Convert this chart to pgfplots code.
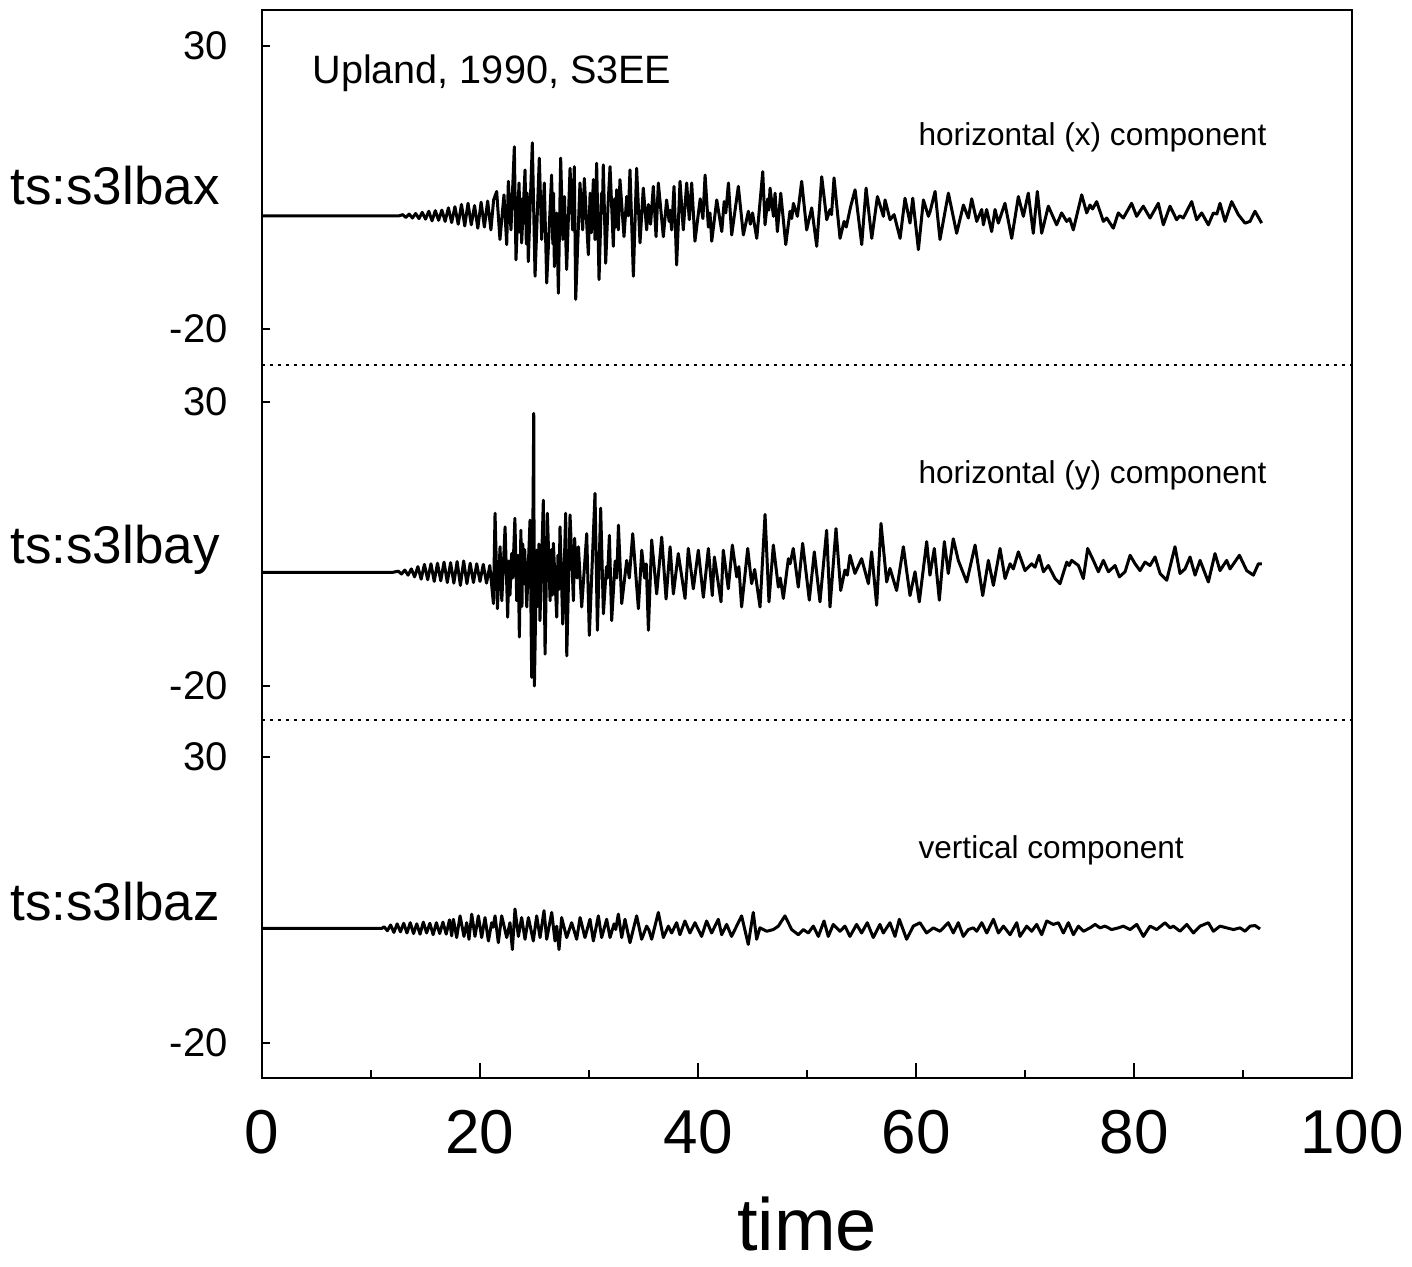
\documentclass[border=0pt]{standalone}
\usepackage{pgfplots}
\pgfplotsset{compat=1.18}
\usepackage{fontspec}
\setmainfont{Liberation Sans}
\pgfplotsset{
 panel/.style={scale only axis, width=545pt, anchor=north west, xmin=0, xmax=100,
   axis line style={draw=none}, tick pos=left, tick align=inside, xtick=\empty,
   ytick={-20,30}, yticklabels={-20,30}, major tick length=4pt,
   tick style={line width=1pt, black},
   yticklabel style={font=\fontsize{20}{24}\selectfont, inner sep=0pt, xshift=-17pt},
   clip=false},
 trace/.style={black, line width=1.5pt, line join=round, no marks}
}
\begin{document}
\begin{tikzpicture}
\useasboundingbox (0pt,0pt) rectangle (706pt,-633.5pt);
% ---------------- panel 1 ----------------
\begin{axis}[panel, height=177.5pt, at={(131pt,-5pt)}, ymin=-26.4, ymax=36.4]
\addplot[trace] coordinates {
(0,0) (12.6,0) (12.9,0.2) (13.2,-0.3) (13.5,0.3) (13.8,-0.4) (14.1,0.4) (14.4,-0.5)
(14.7,0.6) (15.0,-0.6) (15.3,0.8) (15.6,-0.9) (15.9,0.9) (16.2,-0.8) (16.5,1.0) (16.8,-1.0)
(17.1,1.4) (17.4,-1.2) (17.7,1.6) (18.0,-1.5) (18.3,2.0) (18.6,-1.8) (18.9,2.2) (19.2,-1.6)
(19.5,1.8) (19.8,-2.2) (20.1,2.4) (20.4,-2.0) (20.7,2.6) (21.0,-2.5) (21.25,2.8)
(21.53,4.3) (21.83,-4.2) (22.2,3.7) (22.45,-5.1) (22.6,6.1) (22.84,-2.5) (23.15,12.2)
(23.3,-7.8) (23.58,5.8) (23.7,-3.0) (23.75,3.0) (23.82,-4.8) (24.13,8.1) (24.25,-5.0)
(24.33,4.0) (24.43,-8.1) (24.8,12.9) (25.05,-10.7)
(25.44,10.2) (25.66,-4.2) (25.9,5.8) (26.12,-11.9) (26.57,7.2) (26.68,-5.0) (26.75,4.0)
(26.82,-9.0) (27.03,0.5)
(27.19,-13.7) (27.4,10.2) (27.6,-4.2) (27.75,3.4) (27.95,-9.5) (28.26,8.4) (28.5,-2.5)
(28.65,8.7) (28.78,-14.8) (29.17,5.8) (29.42,-2.5) (29.57,6.6) (29.94,-6.9) (30.1,4.0)
(30.22,-3.0) (30.4,6.4)
(30.55,-4.2) (30.7,9.3) (30.92,-11.3) (31.15,4.0) (31.22,0.5) (31.31,9.0) (31.53,-8.4)
(31.75,2.0) (31.93,8.7) (32.23,-5.4) (32.35,3.0) (32.45,-2.0) (32.54,4.6) (32.69,-2.5)
(32.84,6.4) (33.21,-3.7)
(33.46,3.4) (33.6,0.0) (33.76,8.1) (34.07,-10.7) (34.37,8.4) (34.68,-4.8) (34.98,4.9)
(35.29,-2.5) (35.45,2.0) (35.65,-1.5) (35.9,5.2) (36.15,-3.7) (36.36,5.8) (36.82,-3.7)
(37.12,2.8) (37.35,-1.0) (37.45,1.0) (37.58,-2.5) (37.8,5.2) (38.04,-8.7) (38.35,6.1)
(38.65,-2.5) (38.96,5.8) (39.2,-0.7) (39.42,5.8) (39.72,-4.5) (40.2,3.0) (40.45,-0.5)
(40.65,7.2) (40.95,-2.0) (41.1,0.5) (41.26,-4.5) (41.72,2.8) (42.18,-2.8) (42.4,2.5)
(42.55,0.5) (42.79,5.8) (43.09,-3.4) (43.7,5.2) (44.16,-3.4) (44.62,0.8) (44.8,-1.5)
(45.0,0.5) (45.39,-4.0) (45.94,7.8) (46.15,-1.6) (46.4,3.0) (46.5,1.0) (46.61,4.9)
(46.92,-0.1) (47.07,4.0) (47.28,-2.8) (47.59,4.0) (48.05,-5.1) (48.44,0.8) (48.6,-0.5)
(48.75,2.2) (49.12,-0.1) (49.51,6.1) (49.97,-2.5) (50.43,1.4) (50.89,-5.4) (51.35,6.9)
(51.81,-0.7) (52.11,1.1) (52.25,0.2) (52.48,6.7) (53.03,-4.0) (53.4,-1.0) (53.6,-2.0)
(54.0,1.6) (54.41,4.6) (55.02,-5.1) (55.42,4.9) (55.94,-4.0) (56.46,3.4) (57.01,-0.1)
(57.16,2.8) (57.62,-0.7) (57.99,0.2) (58.54,-4.0) (58.99,3.1) (59.45,-1.3) (59.7,3.1)
(60.22,-6.0) (60.68,2.8) (61.14,-0.1) (61.3,0.8) (61.75,4.3) (62.2,-4.2) (62.97,4.0)
(63.73,-3.1) (64.35,1.9) (64.8,-0.4) (65.11,3.0) (65.57,-1.0) (66.03,1.1) (66.18,-1.6)
(66.48,1.1) (66.94,-2.8) (67.25,1.1) (67.55,-1.3) (68.16,2.2) (68.78,-4.0) (69.39,3.4)
(69.85,-0.1) (70.3,4.0) (70.76,-3.1) (71.13,4.3) (71.53,-3.1) (72.14,1.7) (72.9,-1.6)
(73.36,0.5) (73.82,-1.0) (74.1,-0.5) (74.43,-2.5) (75.2,3.7) (75.66,0.5) (75.96,1.9)
(76.2,1.2) (76.57,2.5) (77.19,-1.0) (77.49,-0.4) (78.1,-2.2) (78.56,0.5) (79.02,-0.4)
(79.78,2.2) (80.24,-0.1) (80.85,1.7) (81.47,-0.4) (82.23,2.2) (82.69,-1.6) (83.3,1.7)
(83.91,-0.7) (84.2,0.0) (84.52,-0.4) (85.29,2.5) (85.75,-0.7) (86.21,0.5) (86.82,-1.6)
(87.28,0.5) (87.6,0.3) (87.89,2.2) (88.35,-1.0) (88.96,2.5) (89.57,0.2) (90.18,-1.3)
(90.64,-1.0) (91.1,0.8) (91.71,-1.3)
};
\node[anchor=base west, inner sep=0pt, font=\fontsize{19.8}{24}\selectfont] at (axis cs:4.6,23.4) {Upland, 1990, S3EE};
\node[anchor=base west, inner sep=0pt, font=\fontsize{15.8}{19}\selectfont] at (axis cs:60.2,12.4) {horizontal (x) component};
\end{axis}
% ---------------- panel 2 ----------------
\begin{axis}[panel, height=177.5pt, at={(131pt,-182.5pt)}, ymin=-26.0, ymax=36.5]
\addplot[trace] coordinates {
(0,0) (12.0,0) (12.5,0.2) (12.8,-0.3) (13.1,0.4) (13.4,-0.5) (13.7,0.6) (14.0,-0.8)
(14.3,1.0) (14.6,-1.2) (14.9,1.4) (15.2,-1.3) (15.5,1.5) (15.8,-1.6) (16.1,1.6) (16.4,-1.5)
(16.7,1.8) (17.0,-1.8) (17.3,1.7) (17.6,-1.9) (17.9,1.9) (18.2,-2.3) (18.5,2.0) (18.8,-2.0)
(19.1,1.6) (19.4,-1.8) (19.7,1.5) (20.0,-1.6) (20.3,1.4) (20.6,-1.9) (20.9,1.2)
(21.23,-5.5) (21.38,10.4) (21.6,-6.4) (21.84,4.5) (22.0,-5.0) (22.3,8.0) (22.54,-7.9)
(22.65,2.0) (22.75,-4.0)
(22.9,3.3) (23.0,-1.0) (23.2,9.5) (23.37,-5.0) (23.5,3.0) (23.61,-11.4) (23.75,7.4)
(23.85,-6.0) (23.92,5.0)
(24.0,-2.0) (24.1,4.0) (24.29,-6.1) (24.59,9.2) (24.74,-18.5) (24.93,28.0) (24.99,-20.0)
(25.2,3.9) (25.3,-6.0) (25.4,5.0) (25.5,-8.5) (25.81,12.7) (25.97,-14.4) (26.18,10.4)
(26.43,-5.0) (26.55,4.0) (26.63,-4.0) (26.73,5.1)
(27.04,-7.9) (27.15,3.0) (27.25,-3.0) (27.34,8.0) (27.59,-9.1) (27.86,10.4) (27.96,-14.7)
(28.26,10.1) (28.57,-5.0) (28.68,6.0)
(28.8,1.0) (28.9,-1.0) (29.03,4.5) (29.33,-6.1) (29.79,6.8) (30.03,-11.1) (30.55,13.9)
(30.77,-10.2) (31.07,11.3) (31.32,-7.3) (31.6,1.0) (31.7,-1.0) (31.87,6.5) (32.08,-8.5)
(32.4,2.0) (32.55,-1.0) (32.7,8.3) (33.0,-5.5) (33.46,2.1) (33.7,-1.0) (34.01,6.8)
(34.53,-6.4) (34.84,3.9) (35.1,-1.0) (35.25,1.5) (35.45,-10.2) (35.75,5.7) (36.21,-3.8)
(36.67,6.2) (37.07,-4.7) (37.44,4.5) (37.74,-3.8) (38.19,3.3) (38.81,-4.6) (39.11,4.2)
(39.57,-2.9) (40.03,3.9) (40.49,-4.4) (40.95,4.2) (41.31,-4.1) (41.5,2.7) (42.11,-5.2)
(42.32,3.9) (42.78,-2.9) (43.15,4.8) (43.55,-0.8) (43.75,1.0) (44.0,-6.1) (44.56,4.2)
(44.92,-2.0) (45.2,0.5) (45.69,-6.1) (46.15,10.2) (46.51,-5.2) (46.91,4.8) (47.37,-2.6)
(47.55,-1.0) (47.83,-4.6) (48.29,2.4) (48.45,1.5) (48.74,4.2) (49.2,-2.6) (49.6,5.1)
(50.21,-4.9) (50.67,3.6) (51.19,-5.2) (51.8,7.4) (52.11,-6.1) (52.66,7.7) (53.09,-3.2)
(53.48,0.4) (53.7,-0.5) (53.94,3.0) (54.4,-0.2) (55.01,2.4) (55.63,-2.0) (55.93,3.6)
(56.39,-5.8) (56.79,8.6) (57.31,-1.7) (57.61,0.7) (58.22,-3.2) (58.84,4.5) (59.45,-4.1)
(59.91,0.1) (60.3,-5.2) (60.98,5.4) (61.28,-0.5) (61.68,4.2) (62.14,-4.9) (62.6,5.4)
(62.96,-0.2) (63.42,5.9) (63.88,2.1) (64.65,-1.7) (65.42,4.8) (66.12,-4.1) (66.64,2.1)
(67.1,-2.3) (67.71,4.2) (68.17,-1.1) (68.63,1.5) (68.93,0.6) (69.39,3.6) (70.0,0.3)
(70.61,1.5) (70.92,0.9) (71.29,3.0) (71.69,0.1) (72.14,1.2) (72.76,-1.1) (73.21,-2.0)
(73.83,1.8) (74.05,1.2) (74.28,2.1) (74.9,1.2) (75.35,-1.1) (75.75,4.2) (76.27,2.1)
(76.73,0.1) (77.19,2.1) (77.65,0.1) (78.26,1.2) (78.66,-0.8) (79.18,0.1) (79.64,3.0)
(80.1,1.5) (80.55,0.3) (81.01,1.8) (81.47,1.2) (81.93,2.7) (82.39,-0.2) (83.0,-1.4)
(83.76,4.5) (84.22,-0.2) (84.68,0.6) (85.14,2.7) (85.6,-0.5) (86.06,2.1) (86.82,-1.7)
(87.43,3.3) (87.89,0.3) (88.5,2.1) (88.81,0.6) (89.67,3.0) (90.34,0.3) (90.95,-0.5)
(91.41,1.5) (91.72,1.5)
};
\node[anchor=base west, inner sep=0pt, font=\fontsize{15.8}{19}\selectfont] at (axis cs:60.2,15.7) {horizontal (y) component};
\end{axis}
% ---------------- panel 3 ----------------
\begin{axis}[panel, height=179pt, at={(131pt,-360pt)}, ymin=-26.2, ymax=36.5]
\addplot[trace] coordinates {
(0,0) (11.0,0) (11.2,0.3) (11.5,-0.4) (11.8,0.6) (12.1,-0.7) (12.4,0.8) (12.7,-0.6)
(13.0,0.9) (13.3,-0.8) (13.6,1.0) (13.9,-0.9) (14.2,0.8) (14.5,-1.0) (14.8,1.1) (15.1,-0.8)
(15.4,0.9) (15.7,-1.1) (16.0,1.0) (16.3,-0.9) (16.6,1.1) (16.9,-1.0) (17.2,1.5) (17.4,-1.3)
(17.56,1.6) (17.86,-1.6) (18.17,2.2) (18.53,-1.4) (18.78,1.0) (18.99,-1.9) (19.24,2.5)
(19.54,-1.4) (19.85,2.2) (20.15,-1.6) (20.46,1.9) (20.77,-2.2) (21.07,1.0) (21.2,0.2)
(21.38,2.2) (21.68,-2.5) (21.99,2.2) (22.45,-1.6) (22.75,1.0) (22.97,-3.7) (23.21,3.4)
(23.52,-1.4) (23.82,1.9) (24.13,-1.9) (24.44,1.9) (24.89,-2.2) (25.2,2.2) (25.51,-1.6)
(25.87,3.1) (26.12,-1.9) (26.58,2.8) (26.88,-2.2) (27.04,0.4) (27.25,-3.7) (27.49,1.9)
(27.95,-1.6) (28.41,1.0) (28.87,-1.9) (29.18,1.9) (29.63,-1.6) (30.09,1.6) (30.4,-2.2)
(30.86,2.2) (31.16,-1.6) (31.62,1.6) (31.93,-1.6) (32.3,0.8) (32.45,-0.2) (32.69,2.5)
(33.0,-1.6) (33.3,1.6) (33.76,-2.5) (34.37,2.2) (34.83,-1.9) (35.29,0.4) (35.5,-0.3)
(35.75,-1.9) (36.36,2.8) (36.82,-1.6) (37.28,0.4) (37.58,-0.8) (38.04,1.0) (38.34,-1.1)
(38.8,1.3) (39.26,-0.8) (39.72,1.0) (40.33,-1.4) (40.79,1.3) (41.25,-0.8) (41.86,1.6)
(42.17,-1.1) (42.63,0.7) (43.08,-1.4) (44.0,2.2) (44.61,-2.8) (45.07,2.8) (45.38,-1.9)
(45.68,0.1) (46.0,-0.2) (46.3,-0.5) (46.91,-0.2) (47.37,0.4) (47.98,2.2) (48.59,-0.2)
(49.2,-1.1) (49.66,-0.2) (50.12,-0.8) (50.58,0.4) (51.04,-1.4) (51.56,1.3) (51.95,-1.4)
(52.41,0.7) (53.02,-0.5) (53.48,0.4) (53.94,-1.4) (54.55,0.7) (55.01,-0.8) (55.53,1.0)
(56.08,-1.6) (56.69,0.7) (57.0,-0.8) (57.61,1.0) (58.07,-1.4) (58.47,1.6) (59.14,-1.9)
(59.75,0.4) (60.36,1.0) (60.97,-0.8) (61.59,0.1) (62.2,-0.5) (62.96,1.0) (63.42,-0.8)
(63.88,1.0) (64.34,-1.4) (64.8,-0.2) (65.26,0.1) (65.57,-0.5) (66.03,1.0) (66.49,-0.8)
(67.1,1.6) (67.56,-0.8) (68.02,0.4) (68.63,-1.1) (69.24,1.0) (69.54,-1.4) (70.16,0.4)
(70.61,-0.5) (71.07,0.7) (71.53,-1.1) (71.99,1.3) (72.6,0.7) (73.06,1.0) (73.52,-0.8)
(73.98,1.0) (74.44,-1.1) (74.9,0.4) (75.36,-0.5) (75.97,0.1) (76.43,0.7) (76.88,0.1)
(77.34,0.4) (77.95,-0.2) (78.57,0.1) (79.02,0.4) (79.64,-0.2) (80.25,0.7) (80.86,-1.4)
(81.47,0.4) (82.08,-0.2) (82.85,1.0) (83.31,0.1) (83.61,0.4) (84.22,-0.5) (84.84,0.7)
(85.45,-0.8) (86.06,0.4) (86.82,1.0) (87.28,-0.5) (87.89,0.4) (88.5,0.1) (89.12,-0.2)
(89.73,0.1) (90.19,-0.5) (90.65,0.4) (91.11,0.5) (91.56,-0.1)
};
\node[anchor=base west, inner sep=0pt, font=\fontsize{15.8}{19}\selectfont] at (axis cs:60.2,12.2) {vertical component};
\end{axis}
% ---------------- x axis (ticks and labels) ----------------
\begin{axis}[scale only axis, width=545pt, height=179pt, at={(131pt,-360pt)}, anchor=north west,
  xmin=0, xmax=100, ymin=0, ymax=1, axis line style={draw=none}, ytick=\empty,
  xtick={0,20,40,60,80,100}, xticklabels={0,20,40,60,80,100}, minor xtick={10,30,50,70,90},
  tick pos=left, tick align=inside, major tick length=7.5pt, minor tick length=4pt,
  tick style={line width=1pt, black},
  xticklabel style={font=\fontsize{31}{36}\selectfont, inner sep=0pt, yshift=-16pt}]
\addplot[draw=none] coordinates {(0,0)};
\end{axis}
% ---------------- frame, separators, labels ----------------
\draw[line width=1.2pt] (131pt,-5pt) rectangle (676pt,-539pt);
\draw[line width=1pt, dash pattern=on 1.5pt off 2.5pt] (131pt,-182.5pt) -- (676pt,-182.5pt);
\draw[line width=1pt, dash pattern=on 1.5pt off 2.5pt] (131pt,-360pt) -- (676pt,-360pt);
\node[anchor=base west, inner sep=0pt, font=\fontsize{26.5}{30}\selectfont] at (5pt,-102.5pt) {ts:s3lbax};
\node[anchor=base west, inner sep=0pt, font=\fontsize{26.5}{30}\selectfont] at (5pt,-281.5pt) {ts:s3lbay};
\node[anchor=base west, inner sep=0pt, font=\fontsize{26.5}{30}\selectfont] at (5pt,-460pt) {ts:s3lbaz};
\node[anchor=base, inner sep=0pt, font=\fontsize{37}{42}\selectfont] at (403.5pt,-625pt) {time};
\end{tikzpicture}
\end{document}
